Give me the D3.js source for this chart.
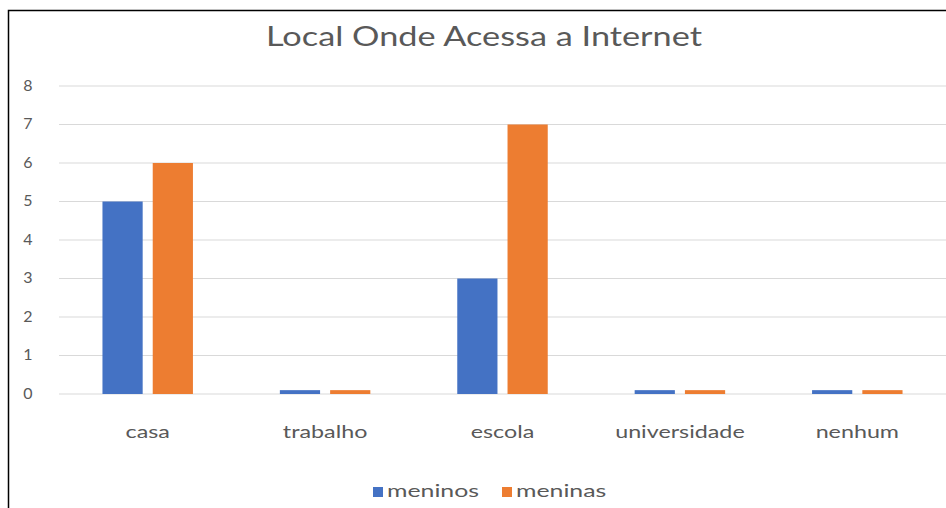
<!DOCTYPE html>
<html>
<head>
<meta charset="utf-8">
<script src="https://cdn.jsdelivr.net/npm/d3@7"></script>
<style>
  html, body { margin: 0; padding: 0; background: #fff; }
  svg { display: block; }
</style>
</head>
<body>
<svg id="chart" width="946" height="508"></svg>
<script>
// Where students access the internet, by group
const categories = ["casa", "trabalho", "escola", "universidade", "nenhum"];
const seriesNames = ["meninos", "meninas"];
const meninos = [5, 0.1, 3, 0.1, 0.1];
const meninas = [6, 0.1, 7, 0.1, 0.1];
const yTicks = [0, 1, 2, 3, 4, 5, 6, 7, 8];
const colors = ["#4472C4", "#ED7D31"];

const rows = categories.map((c, i) => ({ cat: c, values: [meninos[i], meninas[i]] }));

const svg = d3.select("#chart");
const W = 946, H = 508;
const font = "Lato, 'Open Sans', sans-serif";
const textColor = "#595959";

// widen glyphs horizontally by factor k
function stretch(sel, k) {
  sel.each(function () {
    const w = this.getComputedTextLength();
    d3.select(this).attr("textLength", w * k).attr("lengthAdjust", "spacingAndGlyphs");
  });
}

// outer frame
svg.append("rect")
  .attr("x", 8.5).attr("y", 10.5)
  .attr("width", W + 10).attr("height", H + 10)
  .attr("fill", "#fff").attr("stroke", "#000").attr("stroke-width", 1.5);

const x0 = d3.scaleBand().domain(categories).range([59, 946])
  .paddingInner(0.49).paddingOuter(0.245);
const x1 = d3.scaleBand().domain(d3.range(seriesNames.length))
  .range([0, x0.bandwidth()]).paddingInner(0.2);
const y = d3.scaleLinear().domain([0, 8]).range([394, 86]);

// title
svg.append("text")
  .attr("x", 484).attr("y", 46)
  .attr("text-anchor", "middle")
  .attr("font-family", font).attr("font-size", 27)
  .attr("fill", textColor)
  .text("Local Onde Acessa a Internet")
  .call(stretch, 1.27);

// gridlines
svg.append("g")
  .selectAll("line").data(yTicks).join("line")
  .attr("x1", 59).attr("x2", 946)
  .attr("y1", d => y(d)).attr("y2", d => y(d))
  .attr("stroke", "#d9d9d9").attr("stroke-width", 1);

// y axis labels
const yAxis = d3.axisLeft(y).tickValues(yTicks).tickSize(0).tickPadding(0);
svg.append("g")
  .attr("transform", "translate(34,0)")
  .call(yAxis)
  .call(g => g.select(".domain").remove())
  .call(g => g.selectAll("text")
    .attr("font-family", font).attr("font-size", 16)
    .attr("fill", textColor).attr("text-anchor", "middle")
    .attr("x", -6).attr("dy", "0.28em"));

// bars
const groups = svg.append("g").selectAll("g").data(rows).join("g")
  .attr("transform", d => `translate(${x0(d.cat)},0)`);
groups.selectAll("rect").data(d => d.values).join("rect")
  .attr("x", (d, i) => x1(i))
  .attr("width", x1.bandwidth())
  .attr("y", d => y(d))
  .attr("height", d => y(0) - y(d))
  .attr("fill", (d, i) => colors[i]);

// category axis
const xAxis = d3.axisBottom(x0).tickSize(0).tickPadding(0);
svg.append("g")
  .attr("transform", "translate(0,394)")
  .call(xAxis)
  .call(g => g.select(".domain").remove())
  .call(g => g.selectAll("text")
    .attr("font-family", font).attr("font-size", 17.5)
    .attr("fill", textColor)
    .attr("dy", null).attr("y", 44)
    .call(stretch, 1.33));

// legend
const legendItems = [
  { name: seriesNames[0], color: colors[0], x: 373 },
  { name: seriesNames[1], color: colors[1], x: 502 }
];
const legend = svg.append("g").selectAll("g").data(legendItems).join("g")
  .attr("transform", d => `translate(${d.x},487)`);
legend.append("rect")
  .attr("width", 10).attr("height", 10)
  .attr("fill", d => d.color);
legend.append("text")
  .attr("x", 14).attr("y", 10)
  .attr("font-family", font).attr("font-size", 18)
  .attr("fill", textColor)
  .text(d => d.name)
  .call(stretch, 1.38);
</script>
</body>
</html>
